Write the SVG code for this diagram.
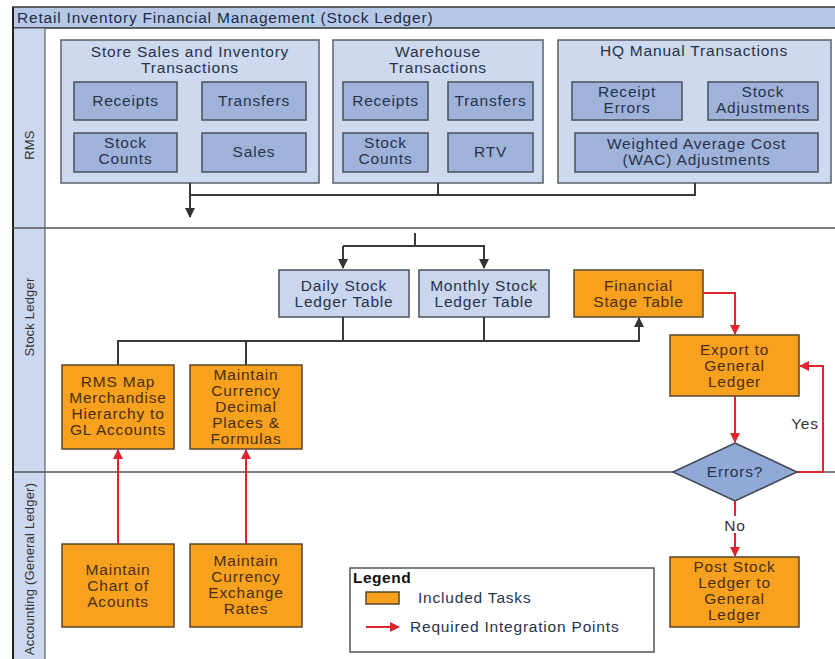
<svg xmlns="http://www.w3.org/2000/svg" width="835" height="659" viewBox="0 0 835 659">
<defs>
<style>
text{font-family:"Liberation Sans",Arial,sans-serif;font-size:15.5px;letter-spacing:0.8px;text-anchor:middle}
.grp{fill:#cdd9ee;stroke:#5a5f68;stroke-width:1.5}
.inner{fill:#9fb3da;stroke:#4a505a;stroke-width:1.5}
.tbl{fill:#c9d6ee;stroke:#4a505a;stroke-width:1.5}
.task{fill:#f7a11e;stroke:#5a4630;stroke-width:1.5}
.bt{fill:#27324a}
.ot{fill:#4a2e12}
.lane{fill:#ccd8ef;stroke:#444;stroke-width:1}
.sep{stroke:#555;stroke-width:1.5;fill:none}
.blk{stroke:#3a3a3a;stroke-width:2;fill:none}
.red{stroke:#e0242c;stroke-width:2;fill:none}
.lt{font-size:13px;letter-spacing:0.2px;fill:#333}
.yn{fill:#333}
</style>
<marker id="ab" viewBox="0 0 10 10" refX="9" refY="5" markerWidth="5" markerHeight="5" orient="auto"><path d="M0,0L10,5L0,10z" fill="#333"/></marker>
<marker id="ar" viewBox="0 0 10 10" refX="9" refY="5" markerWidth="5" markerHeight="5" orient="auto"><path d="M0,0L10,5L0,10z" fill="#e0242c"/></marker>
</defs>
<rect width="835" height="659" fill="#ffffff"/>
<g id="frame">
<rect x="13" y="7" width="830" height="21" fill="#b7c8e6" stroke="#333" stroke-width="1.5"/>
<text x="17" y="23" style="text-anchor:start" fill="#1e2a44">Retail Inventory Financial Management (Stock Ledger)</text>
<rect x="13" y="28" width="32" height="640" class="lane"/>
<line x1="13" y1="7" x2="13" y2="659" stroke="#222" stroke-width="2"/>
<line x1="13" y1="228" x2="835" y2="228" class="sep"/>
<line x1="13" y1="472" x2="835" y2="472" class="sep"/>
<text transform="translate(34,145) rotate(-90)" class="lt">RMS</text>
<text transform="translate(34,317) rotate(-90)" class="lt">Stock Ledger</text>
<text transform="translate(34,569) rotate(-90)" class="lt">Accounting (General Ledger)</text>
</g>
<g id="store">
<rect x="61" y="40" width="258" height="143" class="grp"/>
<text x="190" y="57" class="bt">Store Sales and Inventory</text>
<text x="190" y="73" class="bt">Transactions</text>
</g>
<g id="store-receipts"><rect x="74" y="82" width="103" height="38" class="inner"/><text x="125.5" y="106" class="bt">Receipts</text></g>
<g id="store-transfers"><rect x="202" y="82" width="104" height="38" class="inner"/><text x="254" y="106" class="bt">Transfers</text></g>
<g id="store-counts"><rect x="74" y="133" width="103" height="39" class="inner"/><text x="125.5" y="148" class="bt">Stock</text><text x="125.5" y="164" class="bt">Counts</text></g>
<g id="store-sales"><rect x="202" y="133" width="104" height="39" class="inner"/><text x="254" y="157" class="bt">Sales</text></g>
<g id="warehouse">
<rect x="333" y="40" width="210" height="143" class="grp"/>
<text x="438" y="57" class="bt">Warehouse</text>
<text x="438" y="73" class="bt">Transactions</text>
</g>
<g id="wh-receipts"><rect x="343" y="82" width="85" height="38" class="inner"/><text x="385.5" y="106" class="bt">Receipts</text></g>
<g id="wh-transfers"><rect x="448" y="82" width="85" height="38" class="inner"/><text x="490.5" y="106" class="bt">Transfers</text></g>
<g id="wh-counts"><rect x="343" y="133" width="85" height="39" class="inner"/><text x="385.5" y="148" class="bt">Stock</text><text x="385.5" y="164" class="bt">Counts</text></g>
<g id="wh-rtv"><rect x="448" y="133" width="85" height="39" class="inner"/><text x="490.5" y="157" class="bt">RTV</text></g>
<g id="hq">
<rect x="558" y="40" width="273" height="143" class="grp"/>
<text x="694" y="56" class="bt">HQ Manual Transactions</text>
</g>
<g id="hq-receipt-errors"><rect x="572" y="82" width="110" height="38" class="inner"/><text x="627" y="97" class="bt">Receipt</text><text x="627" y="113" class="bt">Errors</text></g>
<g id="hq-stock-adj"><rect x="708" y="82" width="110" height="38" class="inner"/><text x="763" y="97" class="bt">Stock</text><text x="763" y="113" class="bt">Adjustments</text></g>
<g id="hq-wac"><rect x="575" y="133" width="243" height="39" class="inner"/><text x="696.5" y="149" class="bt">Weighted Average Cost</text><text x="696.5" y="165" class="bt">(WAC) Adjustments</text></g>
<g id="daily"><rect x="279" y="270" width="130" height="47" class="tbl"/><text x="344" y="291" class="bt">Daily Stock</text><text x="344" y="307" class="bt">Ledger Table</text></g>
<g id="monthly"><rect x="419" y="270" width="130" height="47" class="tbl"/><text x="484" y="291" class="bt">Monthly Stock</text><text x="484" y="307" class="bt">Ledger Table</text></g>
<g id="financial"><rect x="574" y="270" width="129" height="47" class="task"/><text x="638.5" y="291" class="ot">Financial</text><text x="638.5" y="307" class="ot">Stage Table</text></g>
<g id="export"><rect x="670" y="335" width="129" height="61" class="task"/><text x="734.5" y="355" class="ot">Export to</text><text x="734.5" y="371" class="ot">General</text><text x="734.5" y="387" class="ot">Ledger</text></g>
<g id="errors"><polygon points="735,443 797,472 735,501 673,472" fill="#90a9d7" stroke="#3e4450" stroke-width="1.5"/><text x="735" y="477" class="bt">Errors?</text></g>
<g id="rms-map"><rect x="62" y="365" width="112" height="84" class="task"/><text x="118" y="387" class="ot">RMS Map</text><text x="118" y="403" class="ot">Merchandise</text><text x="118" y="419" class="ot">Hierarchy to</text><text x="118" y="435" class="ot">GL Accounts</text></g>
<g id="currency-decimal"><rect x="190" y="365" width="112" height="84" class="task"/><text x="246" y="380" class="ot">Maintain</text><text x="246" y="396" class="ot">Currency</text><text x="246" y="412" class="ot">Decimal</text><text x="246" y="428" class="ot">Places &amp;</text><text x="246" y="444" class="ot">Formulas</text></g>
<g id="chart"><rect x="62" y="544" width="112" height="83" class="task"/><text x="118" y="575" class="ot">Maintain</text><text x="118" y="591" class="ot">Chart of</text><text x="118" y="607" class="ot">Acounts</text></g>
<g id="exchange"><rect x="190" y="544" width="112" height="83" class="task"/><text x="246" y="566" class="ot">Maintain</text><text x="246" y="582" class="ot">Currency</text><text x="246" y="598" class="ot">Exchange</text><text x="246" y="614" class="ot">Rates</text></g>
<g id="post"><rect x="670" y="557" width="129" height="70" class="task"/><text x="734.5" y="572" class="ot">Post Stock</text><text x="734.5" y="588" class="ot">Ledger to</text><text x="734.5" y="604" class="ot">General</text><text x="734.5" y="620" class="ot">Ledger</text></g>
<g id="legend">
<rect x="350" y="568" width="304" height="84" fill="#ffffff" stroke="#555" stroke-width="1.5"/>
<text x="353" y="583" style="text-anchor:start;font-weight:bold;letter-spacing:0.5px" fill="#111">Legend</text>
<rect x="366" y="592" width="33" height="12" class="task"/>
<text x="418" y="603" style="text-anchor:start" class="bt">Included Tasks</text>
<line x1="366" y1="627" x2="399" y2="627" class="red" marker-end="url(#ar)"/>
<text x="410" y="632" style="text-anchor:start" class="bt">Required Integration Points</text>
</g>
<g id="connectors">
<line x1="190" y1="183" x2="190" y2="217" class="blk" marker-end="url(#ab)"/>
<polyline points="190,195 695,195 695,183" class="blk"/>
<line x1="438" y1="183" x2="438" y2="195" class="blk"/>
<line x1="415" y1="233" x2="415" y2="246" class="blk"/>
<polyline points="343,246 484,246 484,268" class="blk" marker-end="url(#ab)"/>
<line x1="343" y1="246" x2="343" y2="268" class="blk" marker-end="url(#ab)"/>
<line x1="343" y1="317" x2="343" y2="341" class="blk"/>
<line x1="484" y1="317" x2="484" y2="341" class="blk"/>
<polyline points="118,365 118,341 639,341 639,318" class="blk" marker-end="url(#ab)"/>
<line x1="246" y1="341" x2="246" y2="365" class="blk"/>
<line x1="118" y1="544" x2="118" y2="450" class="red" marker-end="url(#ar)"/>
<line x1="246" y1="544" x2="246" y2="450" class="red" marker-end="url(#ar)"/>
<polyline points="703,293 735,293 735,334" class="red" marker-end="url(#ar)"/>
<line x1="735" y1="396" x2="735" y2="442" class="red" marker-end="url(#ar)"/>
<polyline points="797,472 823,472 823,366 800,366" class="red" marker-end="url(#ar)"/>
<line x1="735" y1="501" x2="735" y2="556" class="red" marker-end="url(#ar)"/>
<rect x="721" y="516" width="28" height="17" fill="#ffffff"/>
<text x="735" y="531" class="yn">No</text>
<text x="805" y="429" class="yn">Yes</text>
</g>
</svg>
